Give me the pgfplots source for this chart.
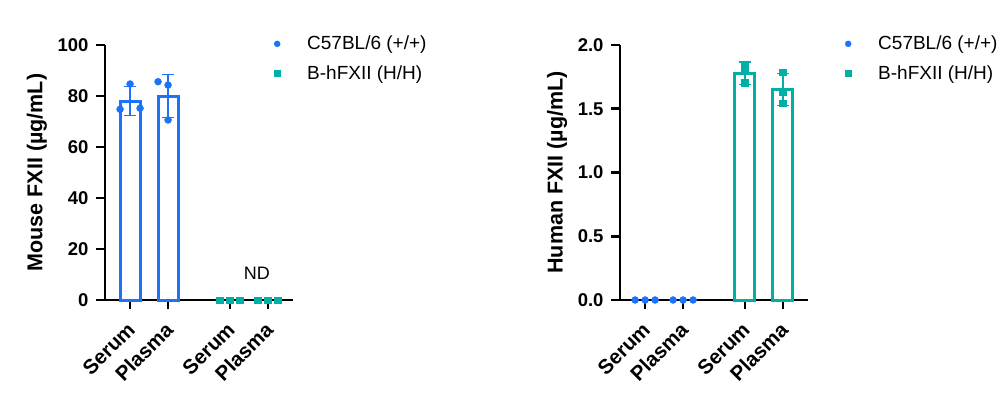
\documentclass[border=0pt]{standalone}
\usepackage{fontspec}
\setmainfont{Liberation Sans}
\usepackage{pgfplots}
\pgfplotsset{compat=1.18}
\definecolor{cblue}{RGB}{28,115,250}
\definecolor{cteal}{RGB}{0,176,166}
\pgfplotsset{
  myaxis/.style={
    scale only axis, width=188pt, height=255pt,
    axis lines=left,
    axis line style={-, line width=2.7pt, black},
    xmin=0, xmax=4.95,
    xtick={0.66,1.66,3.29,4.29},
    xticklabels={Serum,Plasma,Serum,Plasma},
    tick align=outside,
    major tick length=9pt,
    every tick/.style={line width=2.7pt, black},
    xticklabel style={yshift=-9pt, xshift=-4pt, rotate=45, anchor=north east, font=\bfseries\fontsize{20.5}{22}\selectfont, inner sep=2pt},
    yticklabel style={xshift=-4pt, font=\bfseries\fontsize{18.5}{20}\selectfont},
    /pgf/number format/assume math mode=true,
    ylabel style={font=\bfseries\fontsize{21.5}{24}\selectfont, anchor=center},
    clip=false,
    legend style={draw=none, fill=none, font=\fontsize{19}{21}\selectfont, anchor=north west, row sep=6pt, inner sep=0pt, nodes={inner sep=4pt}},
    legend cell align=left,
  },
  legimg/.style={legend image code/.code={\path[draw=none,fill=none] (0pt,-4pt) rectangle (38pt,4pt); \draw[##1] plot coordinates {(12pt,0pt)};}},
  errb/.style={draw=none, mark=none, forget plot,
    error bars/.cd, y dir=both, y explicit,
    error bar style={line width=1.4pt, draw=#1, solid},
    error mark options={rotate=90, mark size=6pt, line width=1.4pt, draw=#1}},
  dotsb/.style={only marks, mark=*, mark size=3.5pt, color=cblue, forget plot},
  dotst/.style={only marks, mark=square*, mark size=3.3pt, color=cteal, forget plot},
}
\begin{document}
\begin{tikzpicture}
\useasboundingbox (0pt,0pt) rectangle (1004pt,-399pt);
% ---------- left ----------
\begin{axis}[myaxis, at={(105pt,-300pt)}, anchor=south west,
  ymin=0, ymax=100, ytick={0,20,40,60,80,100},
  ylabel={Mouse FXII (µg/mL)}, ylabel style={at={(axis description cs:-0.362,0.5)}},
  legend style={at={(axis description cs:0.851,1.051)}}]
\addlegendimage{only marks, mark=*, mark size=3pt, color=cblue, legimg}
\addlegendentry{C57BL/6 (+/+)}
\addlegendimage{only marks, mark=square*, mark size=3pt, color=cteal, legimg}
\addlegendentry{B-hFXII (H/H)}
\addplot[ybar, bar width=20pt, bar shift=0pt, draw=cblue, line width=3pt, fill=white, forget plot] coordinates {(0.66,78.0) (1.66,80.0)};
\addplot[errb=cblue] coordinates {(0.66,78.0) +- (0,5.65) (1.66,80.0) +- (0,8.5)};
\addplot[dotsb] coordinates {(0.397,74.8) (0.66,84.7) (0.923,75.2) (1.397,85.6) (1.66,84.3) (1.66,70.6)};
\addplot[dotst] coordinates {(3.027,0) (3.29,0) (3.553,0) (4.027,0) (4.29,0) (4.553,0)};
\node[font=\fontsize{18}{20}\selectfont] at (axis cs:4.0,10.6) {ND};
\end{axis}
% ---------- right ----------
\begin{axis}[myaxis, at={(620pt,-300pt)}, anchor=south west,
  ymin=0, ymax=2, ytick={0,0.5,1.0,1.5,2.0},
  yticklabel style={/pgf/number format/.cd, fixed, fixed zerofill, precision=1},
  ylabel={Human FXII (µg/mL)}, ylabel style={at={(axis description cs:-0.335,0.5)}},
  legend style={at={(axis description cs:1.149,1.051)}}]
\addlegendimage{only marks, mark=*, mark size=3pt, color=cblue, legimg}
\addlegendentry{C57BL/6 (+/+)}
\addlegendimage{only marks, mark=square*, mark size=3pt, color=cteal, legimg}
\addlegendentry{B-hFXII (H/H)}
\addplot[ybar, bar width=20pt, bar shift=0pt, draw=cteal, line width=3pt, fill=white, forget plot] coordinates {(3.29,1.778) (4.29,1.650)};
\addplot[errb=cteal] coordinates {(3.29,1.778) +- (0,0.088) (4.29,1.650) +- (0,0.125)};
\addplot[dotst] coordinates {(3.29,1.851) (3.29,1.799) (3.29,1.705) (4.29,1.786) (4.29,1.634) (4.29,1.542)};
\addplot[dotsb] coordinates {(0.397,0) (0.66,0) (0.923,0) (1.397,0) (1.66,0) (1.923,0)};
\end{axis}
\end{tikzpicture}
\end{document}
